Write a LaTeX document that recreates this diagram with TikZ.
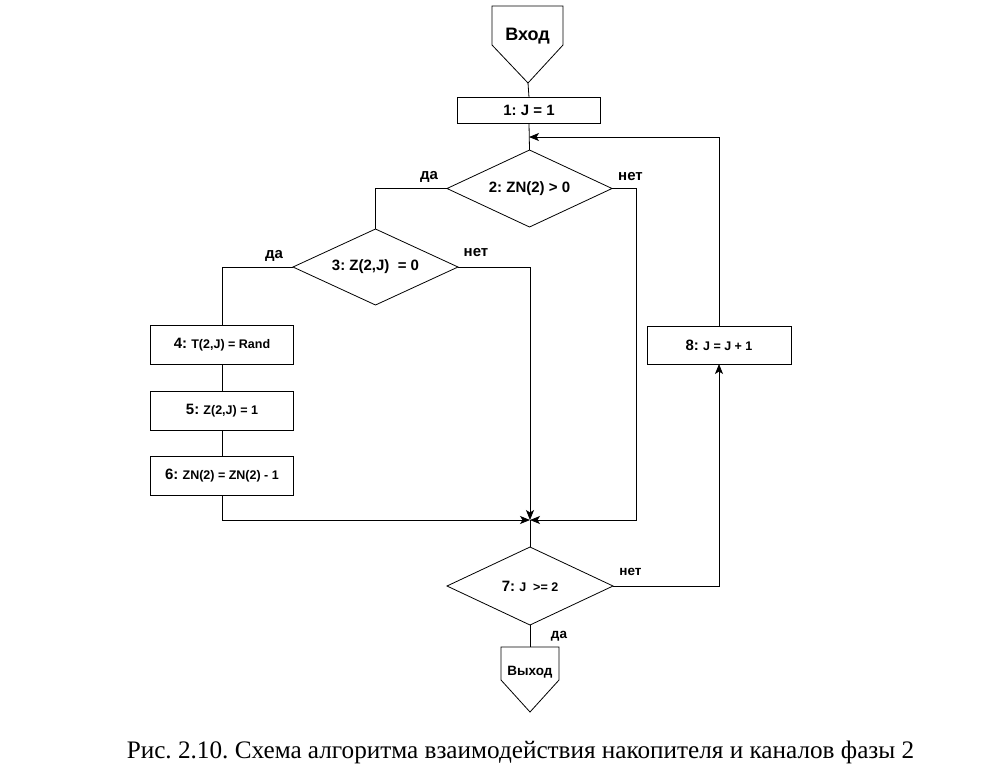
\documentclass[tikz,border=0pt]{standalone}
\usepackage{fontspec}
\setmainfont{Liberation Serif}
\newfontfamily\arialf[BoldFont={Liberation Sans Bold}]{Liberation Sans}
\usetikzlibrary{shapes.geometric,arrows.meta,calc}
\newcommand\numsz{\fontsize{15}{18}\selectfont}
\newcommand\txtsz{\fontsize{12.5}{15}\selectfont}
\frenchspacing
\begin{document}
\begin{tikzpicture}[x=1pt,y=-1pt,line width=0.8pt,
  box/.style={draw,rectangle,inner sep=0pt,outer sep=0pt,font=\arialf\bfseries\numsz},
  dia/.style={draw,diamond,aspect=2.1,inner sep=0pt,outer sep=0pt,font=\arialf\bfseries\numsz},
  lbl/.style={inner sep=0pt,font=\arialf\bfseries\fontsize{15}{18}\selectfont},
  slbl/.style={inner sep=0pt,font=\arialf\bfseries\fontsize{13.5}{16}\selectfont},
  arr/.style={-{Stealth[length=10pt,width=8pt,inset=2.5pt]}}]
\useasboundingbox (0,0) rectangle (992,780);
% entry
\draw (492,6) -- (563,6) -- (563,45) -- (528,83) -- (492,45) -- cycle;
\coordinate (intip) at (528,83);
\node[lbl,font=\arialf\bfseries\fontsize{18}{21}\selectfont] (vhod) at (527.5,36) {Вход};
% boxes
\node[box,minimum width=143,minimum height=26] (b1) at (529,110.5) {1: J = 1};
\node[dia,minimum width=165,minimum height=77] (d2) at (529.5,188.5) {2: ZN(2) > 0};
\node[dia,minimum width=165,minimum height=76] (d3) at (375.5,267) {3: Z(2,J)\ \ = 0};
\node[box,minimum width=143,minimum height=39] (b4) at (222,345) {4: {\txtsz T(2,J) = Rand}};
\node[box,minimum width=143,minimum height=39] (b5) at (222,410.5) {5: {\txtsz Z(2,J) = 1}};
\node[box,minimum width=143,minimum height=39] (b6) at (222,475.5) {6: {\txtsz ZN(2) = ZN(2) - 1}};
\node[box,minimum width=144,minimum height=38] (b8) at (719,345) {8: {\txtsz J = J + 1}};
\node[dia,minimum width=166,minimum height=78] (d7) at (530,586) {7: {\txtsz J\hspace{7pt}>= 2}};
% exit
\draw (501,647) -- (559,647) -- (559,680) -- (530,712) -- (501,680) -- cycle;
\coordinate (outtop) at (530,647);
\node[lbl,font=\arialf\bfseries\fontsize{13.5}{16}\selectfont] (vyhod) at (530,672) {Выход};
% junction coordinates
\coordinate (j1) at (529,137);
\coordinate (m7) at (530,520);
\coordinate (rc) at (636,520);
% connectors
\draw (intip) -- (b1.north);
\draw (b1.south) -- (d2.north);
\draw[arr] (b8.north) |- (j1);
\draw (d2.west) -| (d3.north);
\draw[arr] (d2.east) -| (rc) -- (m7);
\draw[arr] (d3.east) -| (m7);
\draw (d3.west) -| (b4.north);
\draw (b4.south) -- (b5.north);
\draw (b5.south) -- (b6.north);
\draw[arr] (b6.south) |- (m7);
\draw (m7) -- (d7.north);
\draw[arr] (d7.east) -| (b8.south);
\draw (d7.south) -- (outtop);
% labels
\node[lbl] (l2y) at (429,177) {да};
\node[lbl] (l2n) at (630.5,177) {нет};
\node[lbl] (l3y) at (274,256) {да};
\node[lbl] (l3n) at (476,253) {нет};
\node[slbl] (l7n) at (630.5,572) {нет};
\node[slbl] (l7y) at (559,636) {да};
% caption
\node[inner sep=0pt,font=\fontsize{25.2}{30}\selectfont] (cap) at (520.5,752) {Рис. 2.10. Схема алгоритма взаимодействия накопителя и каналов фазы 2};
\end{tikzpicture}
\end{document}
